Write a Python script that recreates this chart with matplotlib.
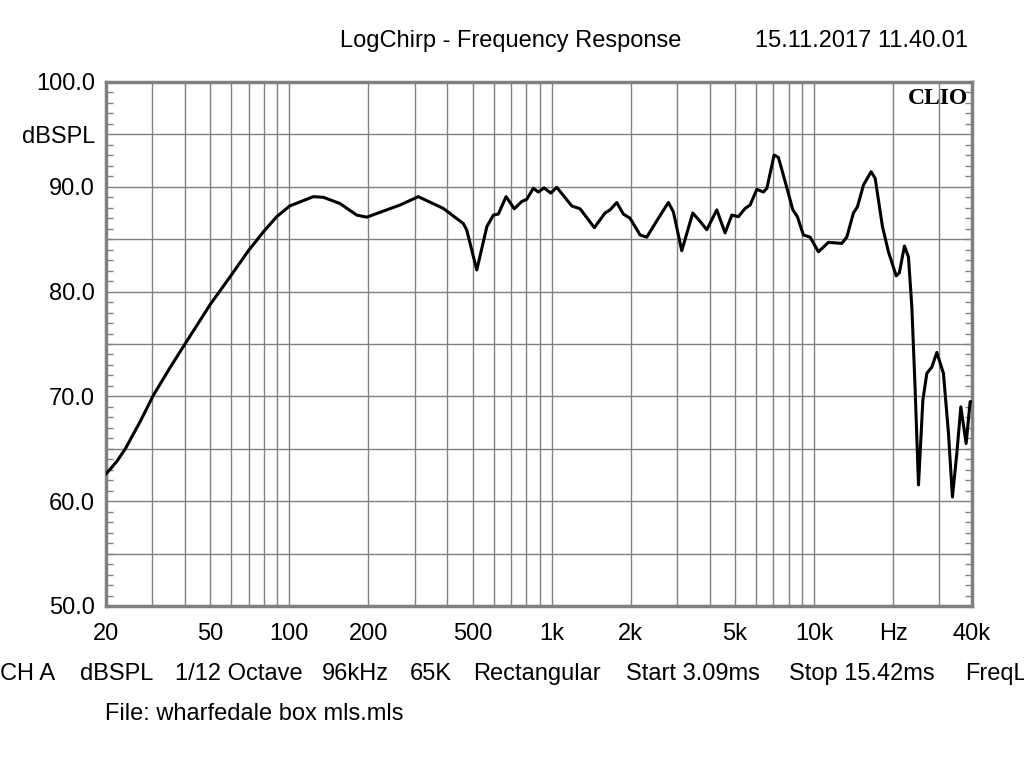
import matplotlib.pyplot as plt
from matplotlib.ticker import FixedLocator, NullFormatter

# frequency response
freq_hz = [20, 22, 23.7, 27, 30.3, 35, 40, 45, 50, 59, 69.8, 79.6, 89.5, 100.3, 123.4, 134.7,
           156, 180.6, 197.2, 264, 310, 386, 460, 474, 518, 566, 599, 626, 670,
           720, 769, 803, 851, 889, 935, 992, 1045, 1193, 1283, 1454, 1597, 1669,
           1770, 1875, 1989, 2172, 2303, 2551, 2785, 2910, 3131, 3449, 3679, 3900,
           4258, 4580, 4858, 5148, 5461, 5705, 6053, 6412, 6610, 7043, 7314, 7824,
           8300, 8640, 9109, 9660, 10390, 11346, 12757, 13330, 14130, 14640, 15430,
           16500, 17100, 18230, 19210, 20560, 21140, 22110, 22900, 23590, 24290,
           25010, 25990, 26910, 28120, 29380, 31130, 32530, 33690, 35020, 36270,
           37990, 39350, 40000]
spl_db = [62.6, 63.8, 65.0, 67.6, 70.1, 72.7, 75.0, 77.0, 78.8, 81.3, 83.9, 85.7, 87.15, 88.17, 89.06, 89.0,
          88.4, 87.3, 87.1, 88.26, 89.06, 87.94, 86.5, 85.9, 82.06, 86.2, 87.3, 87.4, 89.06,
          87.9, 88.6, 88.8, 89.86, 89.5, 89.9, 89.4, 89.95, 88.17, 87.9, 86.1, 87.5, 87.8,
          88.5, 87.4, 87.0, 85.4, 85.2, 87.0, 88.5, 87.6, 83.9, 87.5, 86.7, 85.9,
          87.8, 85.6, 87.3, 87.15, 87.94, 88.26, 89.76, 89.5, 89.86, 93.03, 92.8, 90.17,
          87.8, 87.15, 85.4, 85.2, 83.8, 84.7, 84.6, 85.2, 87.5, 88.1, 90.17,
          91.44, 90.8, 86.2, 83.8, 81.5, 81.8, 84.35, 83.3, 78.56, 70.6,
          61.55, 69.66, 72.2, 72.8, 74.2, 72.2, 66.5, 60.4, 64.6, 69.0,
          65.5, 69.5, 69.5]

x_ticks = [20, 50, 100, 200, 500, 1000, 2000, 5000, 10000, 20000, 40000]
x_labels = ['20', '50', '100', '200', '500', '1k', '2k', '5k', '10k', 'Hz', '40k']
y_ticks = [50, 60, 70, 80, 90, 95, 100]
y_labels = ['50.0', '60.0', '70.0', '80.0', '90.0', 'dBSPL', '100.0']

# settings line under the plot: (text, left edge in px)
info_items = [('CH A', 0), ('dBSPL', 80), ('1/12 Octave', 175), ('96kHz', 322),
              ('65K', 410), ('Rectangular', 473), ('Start 3.09ms', 626),
              ('Stop 15.42ms', 789), ('FreqL', 965)]

plt.rcParams['font.family'] = ['Liberation Sans', 'DejaVu Sans']
gray = '#808080'
fs = 17

fig = plt.figure(figsize=(10.24, 7.68), dpi=100)
ax = fig.add_axes([106/1024, 1-606/768, 866/1024, 524/768])

ax.set_xscale('log')
ax.set_xlim(20, 40000)
ax.set_ylim(50, 100)

# vertical grid at 1..9 per decade
grid_x = [m * 10**d for d in range(1, 5) for m in range(1, 10)]
grid_x = [g for g in grid_x if 20 <= g <= 40000]
for g in grid_x:
    ax.axvline(g, color=gray, lw=1.0, zorder=1)
for g in range(55, 100, 5):
    ax.axhline(g, color=gray, lw=1.0, zorder=1)

ax.plot(freq_hz, spl_db, color='black', lw=2.2, zorder=3,
        solid_joinstyle='round', solid_capstyle='round')

ax.xaxis.set_major_locator(FixedLocator(x_ticks))
ax.set_xticklabels(x_labels)
ax.xaxis.set_minor_formatter(NullFormatter())
ax.tick_params(axis='x', which='both', length=0, labelsize=fs, pad=12)

ax.set_yticks(y_ticks)
ax.set_yticklabels(y_labels)
ax.yaxis.set_minor_locator(FixedLocator(range(50, 101)))
ax.tick_params(axis='y', which='major', length=0, labelsize=fs, pad=8)
ax.tick_params(axis='y', which='minor', direction='in', length=5, width=1,
               color=gray, left=True, right=True)

for sp in ax.spines.values():
    sp.set_color(gray)
    sp.set_linewidth(2.5)

ax.text(0.995, 0.988, 'CLIO', transform=ax.transAxes, ha='right', va='top',
        fontsize=17, fontweight='bold', family='Liberation Serif', zorder=4)

fig.text(511/1024, 1-41/768, 'LogChirp - Frequency Response', ha='center',
         va='center', fontsize=fs)
fig.text(968/1024, 1-41/768, '15.11.2017 11.40.01', ha='right', va='center',
         fontsize=fs)
for txt, px in info_items:
    fig.text(px/1024, 1-674/768, txt, ha='left', va='center', fontsize=fs)
fig.text(105/1024, 1-714/768, 'File: wharfedale box mls.mls', ha='left',
         va='center', fontsize=fs)

fig.savefig('out.png', dpi=100)
